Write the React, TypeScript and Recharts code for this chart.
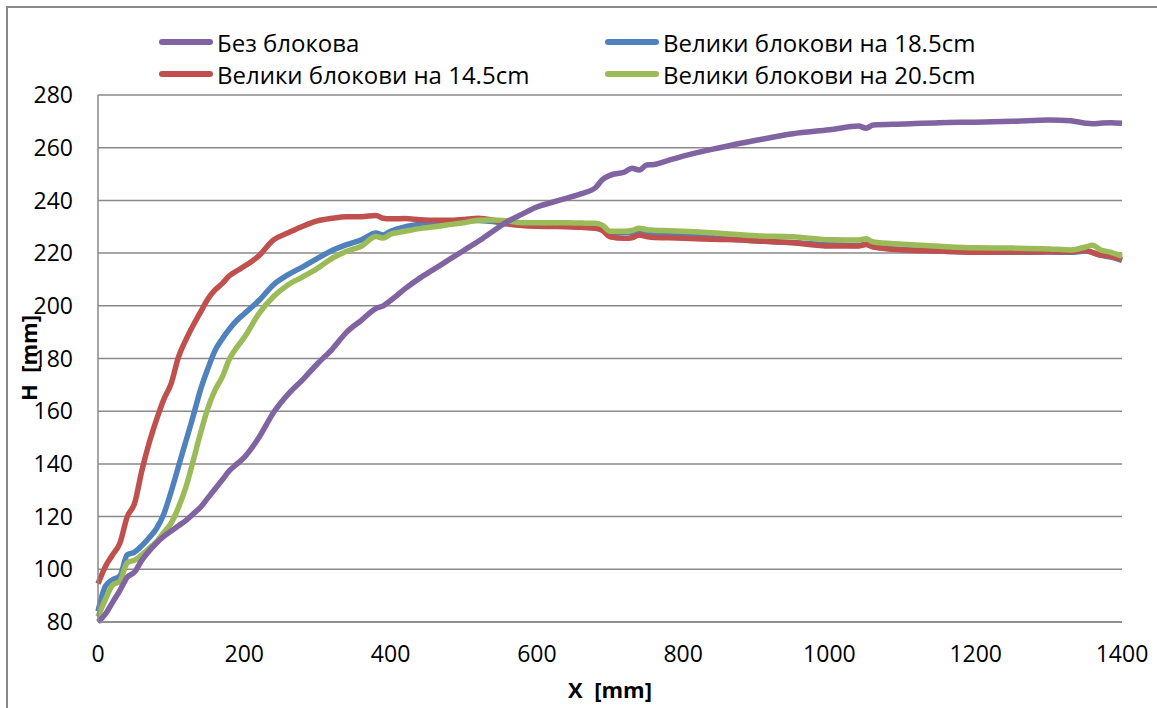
import { LineChart, Line, XAxis, YAxis, CartesianGrid } from 'recharts';

// X positions (mm) shared by all four series
const xValues = [
  0, 10, 20, 30, 40, 50, 60, 70, 80, 90, 100, 110, 120, 130, 140, 150, 160, 170, 180, 190,
  200, 220, 240, 260, 280, 300, 320, 340, 360, 380, 390, 400, 420, 440, 460, 480, 500, 520,
  540, 560, 580, 600, 620, 640, 660, 680, 690, 700, 720, 730, 740, 750, 760, 780, 800, 850,
  900, 950, 1000, 1040, 1050, 1060, 1100, 1150, 1200, 1250, 1300, 1330, 1350, 1360, 1370,
  1385, 1400,
];

// Без блокова
const bezBlokova = [
  80, 83, 87.5, 92, 97, 99, 103.5, 107, 110, 112.5, 114.5, 116.5, 118.5, 121, 123.5, 127,
  130.5, 134, 137.5, 140, 142.5, 150, 159.5, 166.5, 172, 178, 183.5, 190, 194.5, 199, 200,
  202, 206.5, 210.5, 214, 217.5, 221, 224.5, 228.3, 232, 234.8, 237.5, 239.2, 240.8, 242.5,
  244.8, 248, 249.5, 250.8, 252.2, 251.5, 253.4, 253.6, 255.2, 256.8, 260, 262.8, 265.3,
  266.8, 268.2, 267.4, 268.6, 269, 269.5, 269.7, 270, 270.5, 270.2, 269.3, 269.1, 269.3,
  269.5, 269.3,
];

// Велики блокови на 18.5cm
const blok185 = [
  84, 93.5, 96, 97.5, 105.5, 106.5, 109, 112, 115.5, 121, 129.5, 139, 148.5, 158, 168, 176,
  183, 187.5, 191.3, 194.5, 197, 202, 208, 211.8, 214.8, 218, 221, 223.2, 225, 227.6, 226.9,
  228.3, 230, 231, 231.5, 232, 232.5, 232.4, 232, 231, 230.7, 230.5, 230.4, 230.3, 230.2,
  230, 229.5, 227.5, 227.8, 227.8, 228.4, 227.6, 227.3, 227, 226.6, 225.6, 224.6, 224,
  223.2, 222.9, 223.4, 222.5, 221.4, 220.8, 220.3, 220.3, 220.4, 220.3, 220.8, 220.2, 219.2,
  218.5, 217.2,
];

// Велики блокови на 14.5cm
const blok145 = [
  94.5, 101, 105.5, 110, 120, 125, 137.5, 148, 156.8, 164.5, 170.5, 180.5, 187, 192.5, 197.5,
  202.5, 206, 208.5, 211.5, 213.3, 215, 219, 225, 227.7, 230.2, 232.2, 233.2, 233.8, 233.8,
  234.3, 233.2, 233, 233.1, 232.7, 232.5, 232.5, 232.8, 233.2, 232.5, 231.2, 230.5, 230.2,
  230.1, 230, 229.8, 229.4, 228.5, 226.2, 225.6, 225.8, 226.9, 226.3, 225.9, 225.8, 225.6,
  225.2, 224.7, 223.9, 222.7, 222.7, 223.3, 222.3, 221.2, 220.8, 220.3, 220.4, 220.5, 220.5,
  221, 220.2, 219.3, 218.7, 217.6,
];

// Велики блокови на 20.5cm
const blok205 = [
  82, 88.5, 94, 95.5, 102.5, 103.5, 105.5, 108, 110.5, 114, 117.5, 123.5, 131, 141, 151.5,
  161, 168, 173, 180, 184.3, 188, 197, 203.5, 208, 211, 214.2, 218, 220.7, 222.6, 226.3,
  225.7, 227.2, 228.3, 229.3, 230, 230.8, 231.5, 232.5, 232.6, 232.2, 231.5, 231.5, 231.5,
  231.5, 231.4, 231.3, 230.5, 228.3, 228.3, 228.6, 229.4, 228.9, 228.7, 228.5, 228.3, 227.5,
  226.6, 226.2, 225.1, 225, 225.4, 224.2, 223.4, 222.6, 222, 221.9, 221.6, 221.2, 222.3,
  223, 221.3, 220.3, 218.8,
];

const xTicks = [0, 200, 400, 600, 800, 1000, 1200, 1400];
const yTicks = [80, 100, 120, 140, 160, 180, 200, 220, 240, 260, 280];

const COLORS = {
  bez: '#8064A2',
  b185: '#4F81BD',
  b145: '#C0504D',
  b205: '#9BBB59',
};

const FONT = '"Open Sans", "Noto Sans", sans-serif';
const GRID = '#898989';

const rows = xValues.map((x, i) => ({
  x,
  bez: bezBlokova[i],
  b185: blok185[i],
  b145: blok145[i],
  b205: blok205[i],
}));

function LegendItem({ color, label, left, top }: { color: string; label: string; left: number; top: number }) {
  return (
    <div style={{ position: 'absolute', left, top, display: 'flex', alignItems: 'center', height: 30 }}>
      <span style={{ display: 'inline-block', width: 54, height: 5.5, borderRadius: 3, background: color }} />
      <span style={{ marginLeft: 4, fontSize: 24, color: '#000', whiteSpace: 'nowrap' }}>{label}</span>
    </div>
  );
}

export default function App() {
  const tickStyle = { fontSize: 23, fill: '#000', fontFamily: FONT };
  return (
    <div style={{ position: 'absolute', left: 0, top: 0, width: 1157, height: 708, overflow: 'hidden', background: '#fff', fontFamily: FONT }}>
      {/* chart frame (left and top edges; the rest runs off the picture) */}
      <div style={{ position: 'absolute', left: 6, top: 6, width: 2, height: 702, background: '#888' }} />
      <div style={{ position: 'absolute', left: 6, top: 6, width: 1151, height: 2, background: '#888' }} />

      <LegendItem color={COLORS.bez} label="Без блокова" left={159} top={27} />
      <LegendItem color={COLORS.b145} label="Велики блокови на 14.5cm" left={159} top={59} />
      <LegendItem color={COLORS.b185} label="Велики блокови на 18.5cm" left={605} top={27} />
      <LegendItem color={COLORS.b205} label="Велики блокови на 20.5cm" left={605} top={59} />

      <div style={{ position: 'absolute', left: 0, top: 0 }}>
        <LineChart width={1157} height={708} data={rows} margin={{ top: 95, right: 35, bottom: 56, left: 38 }}>
          <CartesianGrid vertical={false} stroke={GRID} strokeWidth={1.5} />
          <XAxis
            dataKey="x"
            type="number"
            domain={[0, 1400]}
            ticks={xTicks}
            height={30}
            tickLine={false}
            tickSize={0}
            tickMargin={24}
            axisLine={{ stroke: GRID, strokeWidth: 1.5 }}
            tick={tickStyle}
          />
          <YAxis
            type="number"
            domain={[80, 280]}
            ticks={yTicks}
            width={60}
            tickLine={false}
            tickSize={0}
            tickMargin={25}
            axisLine={{ stroke: GRID, strokeWidth: 1.5 }}
            tick={tickStyle}
          />
          <Line type="monotone" dataKey="b185" stroke={COLORS.b185} strokeWidth={5.5} dot={false} isAnimationActive={false} />
          <Line type="monotone" dataKey="b145" stroke={COLORS.b145} strokeWidth={5.5} dot={false} isAnimationActive={false} />
          <Line type="monotone" dataKey="b205" stroke={COLORS.b205} strokeWidth={5.5} dot={false} isAnimationActive={false} />
          <Line type="monotone" dataKey="bez" stroke={COLORS.bez} strokeWidth={5.5} dot={false} isAnimationActive={false} />
        </LineChart>
      </div>

      {/* axis titles */}
      <div style={{ position: 'absolute', left: 0, width: 1220, top: 674, textAlign: 'center', fontSize: 22, fontWeight: 'bold', lineHeight: '30px' }}>
        X&nbsp;&nbsp;[mm]
      </div>
      <div
        style={{
          position: 'absolute',
          left: 28,
          top: 358,
          transform: 'translate(-50%, -50%) rotate(-90deg)',
          fontSize: 22,
          fontWeight: 'bold',
          whiteSpace: 'nowrap',
        }}
      >
        H&nbsp;&nbsp;[mm]
      </div>
    </div>
  );
}
